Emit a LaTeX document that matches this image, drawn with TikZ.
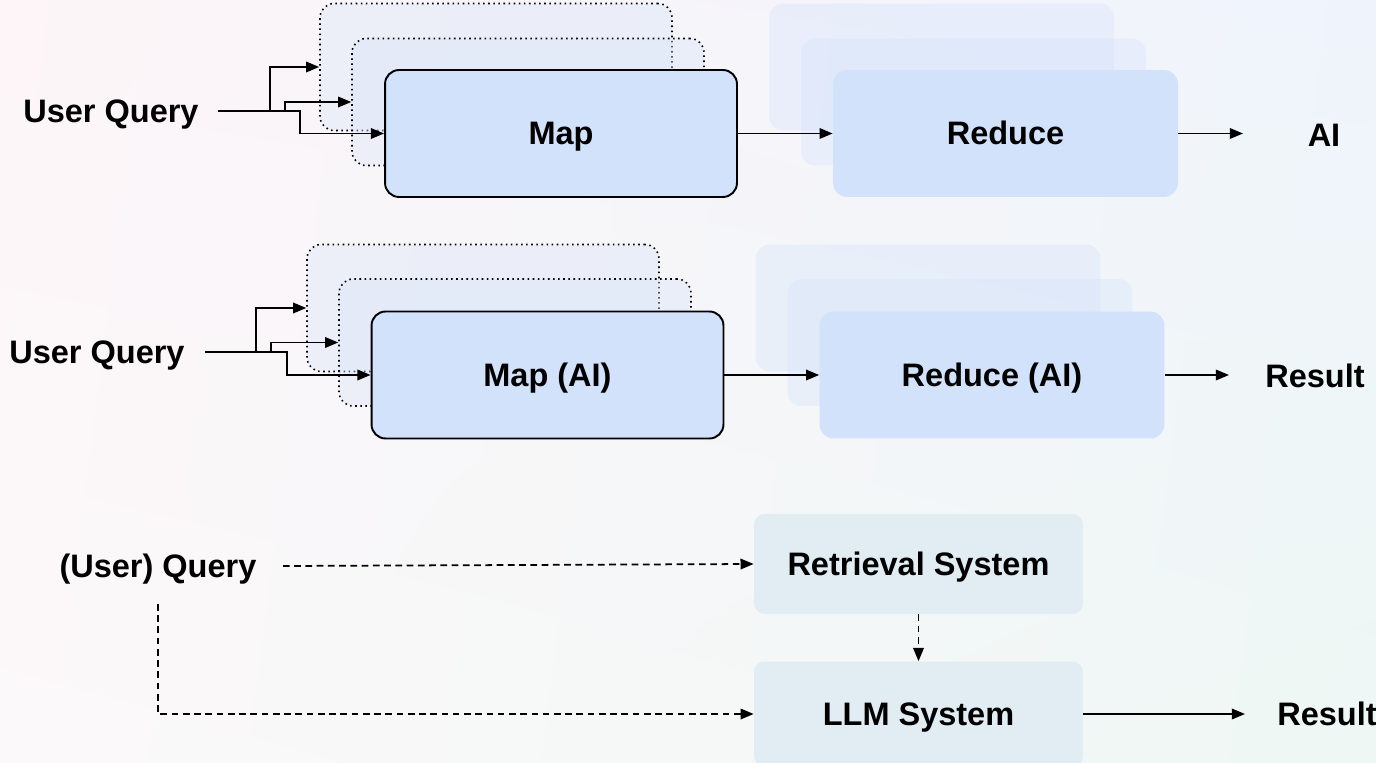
\documentclass[tikz,border=0pt]{standalone}
\usepackage{fontspec}
\setmainfont{Liberation Sans}
\usetikzlibrary{arrows.meta, positioning, shadings}
\definecolor{mapblue}{HTML}{D3E2FB}
\definecolor{ghostblue}{HTML}{D9E4F8}
\definecolor{sysblue}{HTML}{E1EDF3}
\definecolor{bgpink}{HTML}{FDF5F8}
\definecolor{bgblue}{HTML}{EFF4FC}
\definecolor{bgmint}{HTML}{EEF7F4}
\definecolor{bgpale}{HTML}{FCF9FA}

\begin{document}
\begin{tikzpicture}[
  x=0.02cm, y=-0.02cm,
  every node/.style = {font=\fontsize{18.5}{21}\selectfont\bfseries, text height=13pt, text depth=0pt},
  tag/.style = {inner sep=0pt},
  mapbox/.style = {draw, line width=1.1pt, fill=mapblue, rounded corners=8pt,
    minimum width=7.04cm, minimum height=2.54cm},
  ghost/.style = {draw, dotted, line width=0.9pt, fill=ghostblue, fill opacity=0.4,
    rounded corners=8pt, minimum width=7.04cm, minimum height=2.54cm},
  redbox/.style = {fill=mapblue, rounded corners=8pt, minimum width=6.9cm, minimum height=2.54cm},
  redghost/.style = {redbox, fill opacity=0.35},
  sysbox/.style = {fill=sysblue, rounded corners=6pt, minimum width=6.58cm, minimum height=2cm},
  flow/.style = {-{Triangle[length=7.5pt,width=6pt]}, line width=1pt},
  ask/.style = {flow, dash pattern=on 3.8pt off 2.6pt},
  >=Latex
]
  \useasboundingbox (0,0) rectangle (1376,763);
  \shade[upper left=bgpink, upper right=bgblue, lower left=bgpale, lower right=bgmint] (0,0) rectangle (1376,763);

  % first row
  \node[ghost] (mapA) at (496,67) {};
  \node[ghost] (mapB) at (528,102) {};
  \node[mapbox] (map1) at (561,133.5) {Map};
  \node[redghost] (redA) at (941.5,67) {};
  \node[redghost] (redB) at (973.5,102) {};
  \node[redbox] (red1) at (1005.5,133.5) {Reduce};
  \node[tag] (q1) at (111,111) {User Query};
  \node[tag] (out1) at (1324,135) {AI};

  \coordinate (q1start) at (218,111);
  \coordinate (q1a) at (270,111);
  \coordinate (q1b) at (285,111);
  \coordinate (q1c) at (300,111);
  \coordinate (out1end) at (1243,133.5);
  \draw[flow] (q1start) -- (q1c) |- (map1.west);
  \draw[flow] (q1a) |- (mapA.west);
  \draw[flow] (q1b) |- (mapB.west);
  \draw[flow] (map1.east) -- (red1.west);
  \draw[flow] (red1.east) -- (out1end);

  % second row
  \node[ghost] (mapC) at (483,308) {};
  \node[ghost] (mapD) at (515,342.5) {};
  \node[mapbox] (map2) at (547.5,375) {Map (AI)};
  \node[redghost] (redC) at (928,308) {};
  \node[redghost] (redD) at (960,342.5) {};
  \node[redbox] (red2) at (992,375) {Reduce (AI)};
  \node[tag] (q2) at (97,352) {User Query};
  \node[tag] (out2) at (1315,376) {Result};

  \coordinate (q2start) at (205,352);
  \coordinate (q2a) at (256,352);
  \coordinate (q2b) at (271,352);
  \coordinate (q2c) at (287,352);
  \coordinate (out2end) at (1229,375);
  \draw[flow] (q2start) -- (q2c) |- (map2.west);
  \draw[flow] (q2a) |- (mapC.west);
  \draw[flow] (q2b) |- (mapD.west);
  \draw[flow] (map2.east) -- (red2.west);
  \draw[flow] (red2.east) -- (out2end);

  % retrieval row
  \node[sysbox] (retr) at (918.5,564) {Retrieval System};
  \node[sysbox, minimum height=2.1cm] (llm) at (918.5,714) {LLM System};
  \node[tag] (q3) at (158,566) {(User) Query};
  \node[tag] (out3) at (1327,714) {Result};

  \coordinate (q3right) at (283,566);
  \coordinate (q3down) at (158,604);
  \coordinate (out3end) at (1245,714);
  \draw[ask] (q3right) -- (retr.west);
  \draw[ask] (retr.south) -- (llm.north);
  \draw[ask] (q3down) |- (llm.west);
  \draw[flow] (llm.east) -- (out3end);
\end{tikzpicture}
\end{document}
